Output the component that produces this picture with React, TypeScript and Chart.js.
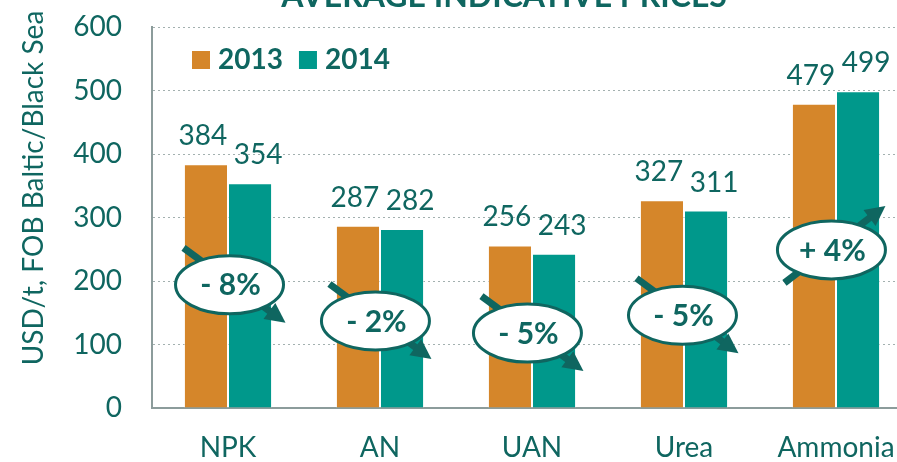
import { useEffect, useRef } from 'react';
import { Chart, registerables } from 'chart.js';

Chart.register(...registerables);

const categories = ['NPK', 'AN', 'UAN', 'Urea', 'Ammonia'];
const series2013 = [384, 287, 256, 327, 479];
const series2014 = [354, 282, 243, 311, 499];
const seriesNames = ['2013', '2014'];
const yTickValues = [0, 100, 200, 300, 400, 500, 600];
// badge centre level (in USD/t) for each category's change bubble
const badgeLevels = [194, 137, 118, 146, 249];
const badgeShift = [0.01, -0.03, -0.03, -0.01, -0.03];

const TITLE = 'AVERAGE INDICATIVE PRICES';
const Y_TITLE = 'USD/t, FOB Baltic/Black Sea';

const ORANGE = '#d5862a';
const TEAL = '#00988b';
const INK = '#0f6660';
const FONT = 'Lato, "Open Sans", sans-serif';

const T = 40; // canvas shifted up so the title is clipped like the reference
const W = 930;
const H = 462 + T;

const overlay = {
  id: 'overlay',
  afterDatasetsDraw(chart: any) {
    const ctx = chart.ctx as CanvasRenderingContext2D;
    const xs = chart.scales.x;
    const ys = chart.scales.y;
    ctx.save();
    // value labels
    ctx.font = `28px ${FONT}`;
    ctx.fillStyle = INK;
    ctx.textAlign = 'center';
    ctx.textBaseline = 'alphabetic';
    chart.data.datasets.forEach((ds: any, di: number) => {
      const meta = chart.getDatasetMeta(di);
      meta.data.forEach((bar: any, i: number) => {
        ctx.fillText(String(ds.data[i]), bar.x + (di === 0 ? -3 : 8), bar.y - 19);
      });
    });
    // change badges
    categories.forEach((_c, i) => {
      const a = series2013[i];
      const b = series2014[i];
      const pct = Math.round(((b - a) / a) * 100);
      const cx = xs.getPixelForValue(i + badgeShift[i]);
      const cy = ys.getPixelForValue(badgeLevels[i]);
      let sx, sy, tx, ty;
      if (pct < 0) {
        sx = cx - 46; sy = cy - 37; tx = cx + 56; ty = cy + 38;
      } else {
        sx = cx - 47; sy = cy + 33; tx = cx + 54; ty = cy - 44;
      }
      const dx = tx - sx, dy = ty - sy;
      const len = Math.hypot(dx, dy);
      const ux = dx / len, uy = dy / len;
      const head = 20, half = 10;
      const bx = tx - ux * head, by = ty - uy * head;
      ctx.strokeStyle = INK;
      ctx.fillStyle = INK;
      ctx.lineWidth = 7;
      ctx.lineCap = 'butt';
      ctx.beginPath();
      ctx.moveTo(sx, sy);
      ctx.lineTo(bx + ux * 2, by + uy * 2);
      ctx.stroke();
      ctx.beginPath();
      ctx.moveTo(tx, ty);
      ctx.lineTo(bx - uy * half, by + ux * half);
      ctx.lineTo(bx + uy * half, by - ux * half);
      ctx.closePath();
      ctx.fill();
      // ellipse
      ctx.beginPath();
      ctx.ellipse(cx, cy, 54, 29, 0, 0, Math.PI * 2);
      ctx.fillStyle = '#ffffff';
      ctx.fill();
      ctx.lineWidth = 3;
      ctx.strokeStyle = INK;
      ctx.stroke();
      ctx.fillStyle = INK;
      ctx.font = `bold 30px ${FONT}`;
      ctx.textAlign = 'center';
      ctx.textBaseline = 'middle';
      ctx.fillText(`${pct < 0 ? '-' : '+'} ${Math.abs(pct)}%`, cx + 1, cy + 1);
    });
    ctx.restore();
  },
  afterDraw(chart: any) {
    const ctx = chart.ctx as CanvasRenderingContext2D;
    const area = chart.chartArea;
    ctx.save();
    // title
    ctx.fillStyle = INK;
    ctx.font = `bold 32px ${FONT}`;
    ctx.textAlign = 'center';
    ctx.textBaseline = 'alphabetic';
    ctx.fillText(TITLE, 504, T + 7);
    // y axis title
    ctx.save();
    ctx.translate(34, T + 188);
    ctx.rotate(-Math.PI / 2);
    ctx.font = `28px ${FONT}`;
    ctx.textBaseline = 'middle';
    ctx.fillText(Y_TITLE, 0, 0);
    ctx.restore();
    // legend
    ctx.font = `bold 28px ${FONT}`;
    ctx.textAlign = 'left';
    ctx.textBaseline = 'alphabetic';
    let x = area.left + 40;
    const y = area.top + 24;
    chart.data.datasets.forEach((ds: any) => {
      ctx.fillStyle = ds.backgroundColor;
      ctx.fillRect(x, y, 18, 18);
      ctx.fillStyle = INK;
      ctx.fillText(ds.label, x + 26, y + 18);
      x += 26 + ctx.measureText(ds.label).width + 16;
    });
    ctx.restore();
  },
};

export default function App() {
  const ref = useRef<HTMLCanvasElement | null>(null);
  useEffect(() => {
    if (!ref.current) return;
    const chart = new Chart(ref.current, {
      type: 'bar',
      data: {
        labels: categories,
        datasets: [
          {
            label: seriesNames[0],
            data: series2013,
            backgroundColor: ORANGE,
            borderColor: 'rgba(255,255,255,0.5)',
            borderWidth: 1,
            categoryPercentage: 0.58,
            barPercentage: 1,
          },
          {
            label: seriesNames[1],
            data: series2014,
            backgroundColor: TEAL,
            borderColor: 'rgba(255,255,255,0.5)',
            borderWidth: 1,
            categoryPercentage: 0.58,
            barPercentage: 1,
          },
        ],
      },
      options: {
        responsive: false,
        animation: false,
        devicePixelRatio: 1,
        layout: { padding: { left: 0, right: 18, top: 27 + T, bottom: 0 } },
        plugins: {
          legend: { display: false },
          title: { display: false },
          tooltip: { enabled: false },
        },
        scales: {
          x: {
            grid: { display: false, drawTicks: false },
            border: { display: true, color: '#8c9c9b', width: 2 },
            ticks: {
              color: INK,
              font: { family: FONT, size: 28, lineHeight: 1.2 },
              padding: 23,
            },
            afterFit: (s: any) => {
              s.height = H - (408 + T);
            },
          },
          y: {
            min: 0,
            max: 600,
            afterBuildTicks: (s: any) => {
              s.ticks = yTickValues.map((v) => ({ value: v }));
            },
            grid: { color: '#a3b0af', lineWidth: 1, drawTicks: false },
            border: { display: true, color: '#8c9c9b', width: 2, dash: [2, 3] },
            ticks: {
              color: INK,
              font: { family: FONT, size: 28 },
              padding: 30,
            },
            afterFit: (s: any) => {
              s.width = 152;
            },
          },
        },
      },
      plugins: [overlay],
    });
    return () => chart.destroy();
  }, []);
  return (
    <div style={{ position: 'absolute', left: 0, top: 0, width: 897, height: 462, overflow: 'hidden', background: '#fff' }}>
      <div style={{ position: 'absolute', left: 0, top: -T, width: W, height: H }}>
        <canvas ref={ref} width={W} height={H} style={{ display: 'block', width: W, height: H }} />
      </div>
    </div>
  );
}
